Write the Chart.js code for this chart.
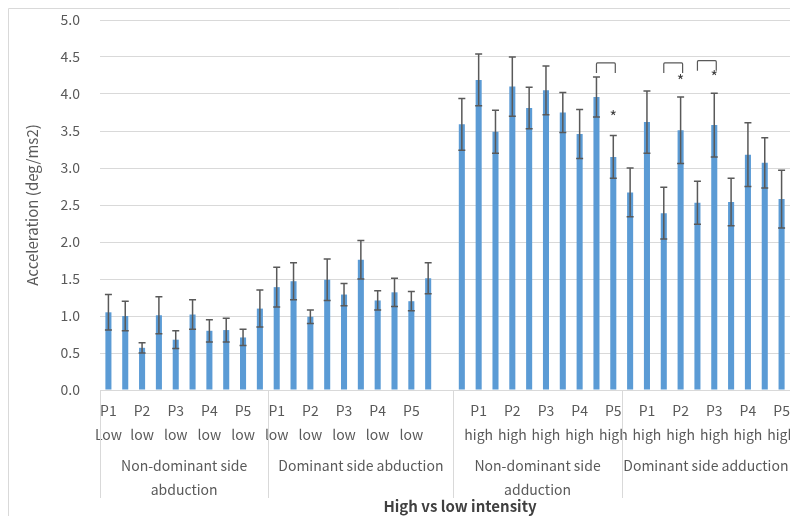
<!DOCTYPE html>
<html>
<head>
<meta charset="utf-8">
<script src="https://cdn.jsdelivr.net/npm/chart.js@4.4.1/dist/chart.umd.min.js"></script>
<style>
  body { margin: 0; background: #fff; }
  #wrap { width: 790px; height: 516px; position: relative; }
</style>
</head>
<body>
<div id="wrap"><canvas id="bar-chart"></canvas></div>
<script>
// categories: low/high pairs per participant, one blank slot after the 2nd group
var categories = [
    ['P1', 'Low'], ['P1', 'high'], ['P2', 'low'], ['P2', 'high'], ['P3', 'low'], ['P3', 'high'], ['P4', 'low'], ['P4', 'high'], ['P5', 'low'], ['P5', 'high'],
    ['P1', 'low'], ['P1', 'high'], ['P2', 'low'], ['P2', 'high'], ['P3', 'low'], ['P3', 'high'], ['P4', 'low'], ['P4', 'high'], ['P5', 'low'], ['P5', 'high'],
    '',
    ['P1', 'low'], ['P1', 'high'], ['P2', 'low'], ['P2', 'high'], ['P3', 'low'], ['P3', 'high'], ['P4', 'low'], ['P4', 'high'], ['P5', 'low'], ['P5', 'high'],
    ['P1', 'low'], ['P1', 'high'], ['P2', 'low'], ['P2', 'high'], ['P3', 'low'], ['P3', 'high'], ['P4', 'low'], ['P4', 'high'], ['P5', 'low'], ['P5', 'high']
];
var groupLabels = [['Non-dominant side', 'abduction'], ['Dominant side abduction'], ['Non-dominant side', 'adduction'], ['Dominant side adduction']];
var groupStarts = [0, 10, 21, 31];
var groupEnds = [9, 20, 30, 40];

var ndAbduction = [1.05, 1.00, 0.57, 1.01, 0.68, 1.02, 0.80, 0.81, 0.71, 1.10];
var ndAbductionErr = [0.24, 0.20, 0.07, 0.25, 0.12, 0.20, 0.15, 0.16, 0.11, 0.25];
var dAbduction = [1.39, 1.47, 0.99, 1.49, 1.29, 1.76, 1.21, 1.32, 1.20, 1.51];
var dAbductionErr = [0.27, 0.25, 0.09, 0.28, 0.15, 0.26, 0.13, 0.19, 0.13, 0.21];
var ndAdduction = [3.59, 4.19, 3.49, 4.10, 3.81, 4.05, 3.75, 3.46, 3.96, 3.15];
var ndAdductionErr = [0.35, 0.35, 0.29, 0.40, 0.28, 0.33, 0.27, 0.33, 0.27, 0.29];
var dAdduction = [2.67, 3.62, 2.39, 3.51, 2.53, 3.58, 2.54, 3.18, 3.07, 2.58];
var dAdductionErr = [0.33, 0.42, 0.35, 0.45, 0.29, 0.43, 0.32, 0.43, 0.34, 0.39];

// significance: bracket from bar a to bar b at level top, star over b
var sigPairs = [[29, 30], [33, 34], [35, 36]];
var sigTop = [4.42, 4.42, 4.45];
var starLevel = [3.73, 4.22, 4.27];

var values = ndAbduction.concat(dAbduction, [null], ndAdduction, dAdduction);
var errors = ndAbductionErr.concat(dAbductionErr, [null], ndAdductionErr, dAdductionErr);

var FONT = "'Noto Sans CJK KR', 'Noto Sans', sans-serif";
var GREY = '#595959';

var extras = {
    id: 'extras',
    beforeDraw: function (chart) {
        var ctx = chart.ctx;
        ctx.save();
        ctx.strokeStyle = '#d9d9d9';
        ctx.lineWidth = 1;
        ctx.beginPath();
        ctx.moveTo(8.5, chart.height);
        ctx.lineTo(8.5, 8.5);
        ctx.lineTo(chart.width, 8.5);
        ctx.stroke();
        ctx.restore();
    },
    afterDatasetsDraw: function (chart) {
        var ctx = chart.ctx;
        var x = chart.scales.x;
        var y = chart.scales.y;
        var area = chart.chartArea;
        ctx.save();

        // error bars
        ctx.strokeStyle = GREY;
        ctx.lineWidth = 1.5;
        for (var i = 0; i < values.length; i++) {
            if (values[i] === null) continue;
            var px = x.getPixelForValue(i);
            var hi = y.getPixelForValue(values[i] + errors[i]);
            var lo = y.getPixelForValue(values[i] - errors[i]);
            ctx.beginPath();
            ctx.moveTo(px, hi); ctx.lineTo(px, lo);
            ctx.moveTo(px - 3.5, hi); ctx.lineTo(px + 3.5, hi);
            ctx.moveTo(px - 3.5, lo); ctx.lineTo(px + 3.5, lo);
            ctx.stroke();
        }

        // brackets and stars
        ctx.lineWidth = 1.2;
        ctx.fillStyle = '#404040';
        ctx.font = '16px ' + FONT;
        ctx.textAlign = 'center';
        ctx.textBaseline = 'middle';
        for (var s = 0; s < sigPairs.length; s++) {
            var xa = x.getPixelForValue(sigPairs[s][0]);
            var xb = x.getPixelForValue(sigPairs[s][1]) + 2;
            var top = y.getPixelForValue(sigTop[s]);
            ctx.beginPath();
            ctx.moveTo(xa, top + 10);
            ctx.lineTo(xa, top + 1);
            ctx.quadraticCurveTo(xa, top, xa + 1, top);
            ctx.lineTo(xb - 1, top);
            ctx.quadraticCurveTo(xb, top, xb, top + 1);
            ctx.lineTo(xb, top + 10);
            ctx.stroke();
            ctx.fillText('*', x.getPixelForValue(sigPairs[s][1]), y.getPixelForValue(starLevel[s]) + 3);
        }

        // group dividers and labels
        ctx.strokeStyle = '#d9d9d9';
        ctx.lineWidth = 1;
        ctx.fillStyle = GREY;
        ctx.font = '14px ' + FONT;
        for (var g = 0; g < groupStarts.length; g++) {
            var left = groupStarts[g] === 0 ? area.left : (x.getPixelForValue(groupStarts[g] - 1) + x.getPixelForValue(groupStarts[g])) / 2;
            var right = groupEnds[g] === values.length - 1 ? area.right : (x.getPixelForValue(groupEnds[g]) + x.getPixelForValue(groupEnds[g] + 1)) / 2;
            ctx.beginPath();
            ctx.moveTo(Math.round(left) + 0.5, area.bottom);
            ctx.lineTo(Math.round(left) + 0.5, area.bottom + 108);
            ctx.stroke();
            for (var l = 0; l < groupLabels[g].length; l++) {
                ctx.fillText(groupLabels[g][l], (left + right) / 2, area.bottom + 76 + l * 24);
            }
        }

        // axis title
        ctx.fillStyle = '#404040';
        ctx.font = 'bold 15px ' + FONT;
        ctx.fillText('High vs low intensity', (area.left + area.right) / 2 + 15, area.bottom + 116);
        ctx.restore();
    }
};

function barChart(labels, data) {
    var ctx = document.getElementById('bar-chart');
    var chart = new Chart(ctx, {
        type: 'bar',
        data: {
            labels: labels,
            datasets: [{
                data: data,
                backgroundColor: '#5b9bd5',
                barPercentage: 0.36,
                categoryPercentage: 1
            }]
        },
        options: {
            responsive: true,
            maintainAspectRatio: false,
            animation: false,
            layout: { padding: { top: 20, left: 0, right: 0, bottom: 0 } },
            plugins: { legend: { display: false }, tooltip: { enabled: false } },
            scales: {
                x: {
                    grid: { display: false, drawTicks: false },
                    border: { display: true, color: '#d9d9d9' },
                    ticks: {
                        autoSkip: false,
                        maxRotation: 0,
                        minRotation: 0,
                        padding: 9,
                        color: GREY,
                        font: { family: FONT, size: 14, lineHeight: 24 / 14 },
                        callback: function (v, i) {
                            return i % 2 === 0 ? this.getLabelForValue(v) : '';
                        }
                    },
                    afterFit: function (scale) {
                        scale.height = 126;
                        scale.paddingLeft = 0;
                        scale.paddingRight = 0;
                    }
                },
                y: {
                    min: 0,
                    max: 5,
                    grid: { color: '#d9d9d9', drawTicks: false },
                    border: { display: false },
                    ticks: {
                        stepSize: 0.5,
                        padding: 20,
                        color: GREY,
                        font: { family: FONT, size: 14 },
                        callback: function (v) { return v.toFixed(1); }
                    },
                    title: {
                        display: true,
                        text: 'Acceleration (deg/ms2)',
                        color: GREY,
                        font: { family: FONT, size: 15 },
                        padding: { top: 23, bottom: 0 }
                    },
                    afterFit: function (scale) {
                        scale.width = 100;
                        scale.paddingTop = 0;
                        scale.paddingBottom = 0;
                    }
                }
            }
        },
        plugins: [extras]
    });
}

barChart(categories, values);
</script>
</body>
</html>
